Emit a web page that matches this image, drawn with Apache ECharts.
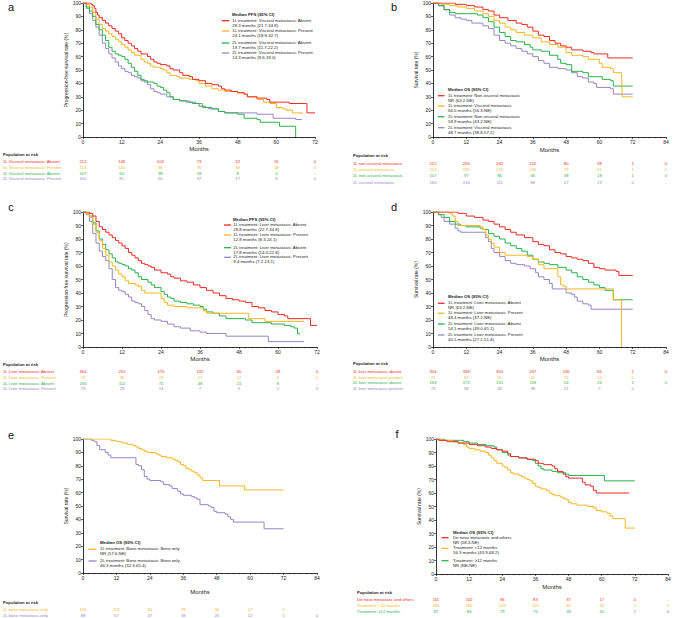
<!DOCTYPE html>
<html>
<head>
<meta charset="utf-8">
<script src="https://cdn.jsdelivr.net/npm/echarts@6/dist/echarts.min.js"></script>
<style>html,body{margin:0;padding:0;background:#fff}#c{width:676px;height:618px}</style>
</head>
<body>
<div id="c"></div>
<script>
// ---------------- DATA ----------------
const monthTicks72 = [0, 12, 24, 36, 48, 60, 72];
const monthTicks84 = [0, 12, 24, 36, 48, 60, 72, 84];

// Panel a: PFS by visceral metastasis
const a1LAbsent = [[0,100],[2,100],[2.5,99],[3,98],[3.5,96],[4,93],[4.5,91],[5,89],[6,87],[7,85],[8,83],[9,81],[10,79],[11,77],[12,74],[13,72],[14,70],[15,68],[16,66],[17,64],[18,62],[20,60],[21,58],[22,56],[23,55],[24,54],[26,53],[27,51],[28,50],[30,48],[31,46],[33,45],[34,43],[36,42],[38,40],[40,39],[42,38],[43,36],[44,35],[46,34],[48,33],[50,32],[51,30],[54,29],[57,28],[58,26],[63,26],[64,25],[69,25],[69.5,18],[72,18]];
const a1LPresent = [[0,100],[1,99],[2,97],[3,93],[4,88],[5,84],[6,81],[7,79],[8,77],[9,75],[10,73],[11,71],[12,69],[13,67],[14,65],[15,63],[16,61],[18,58],[19,56],[20,55],[21,53],[22,52],[24,51],[25,50],[26,48],[27,46],[29,45],[30,44],[33,43],[35,42],[36,40],[38,38],[40,36],[42,35],[44,34],[48,33],[50,32],[51,30],[54,28],[56,26],[58,25],[60,22],[62,21],[63,20],[65,18],[68,17]];
const a2LAbsent = [[0,100],[1,97],[2,94],[3,90],[4,84],[5,80],[6,76],[7,72],[8,67],[9,64],[10,62],[11,61],[12,60],[13,58],[14,55],[15,52],[16,49],[17,46],[18,43],[19,42],[20,41],[22,40],[23,38],[24,37],[25,35],[26,33],[27,30],[28,28],[30,27],[32,26],[34,25],[36,23],[38,22],[40,21],[42,19],[44,18],[48,17],[50,14],[54,13],[55,11],[60,11],[61,8],[65.5,8],[66,0]];
const a2LPresent = [[0,100],[1,96],[2,92],[3,87],[4,82],[5,76],[6,70],[7,66],[8,62],[9,59],[10,56],[11,53],[12,51],[13,49],[14,48],[15,46],[16,45],[17,44],[18,42],[19,41],[20,39],[21,36],[22,34],[23,33],[24,32],[26,30],[28,28],[30,27],[33,26],[35,25],[37,22],[39,21],[42,19],[44,18],[48,18],[54,17],[58,17],[59,14],[66,13],[68,13]];

// Panel b: OS by visceral metastasis
const b1LNonVisc = [[0,100],[6,100],[8,99],[12,98],[15,97],[18,95],[20,94],[22,91],[24,89],[27,87],[30,85],[32,84],[34,82],[36,79],[38,76],[40,75],[42,72],[44,70],[46,68],[48,67],[50,65],[54,64],[57,63],[58,62],[60,62],[63,59],[72,59]];
const b1LVisc = [[0,100],[3,99],[6,98],[9,97],[12,96],[15,94],[18,92],[20,90],[22,87],[24,85],[26,82],[28,80],[30,78],[33,76],[36,74],[39,71],[42,69],[45,67],[48,63],[50,61],[54,60],[56,58],[60,55],[61,52],[64,51],[65,48],[68,48],[68.2,30],[72,30]];
const b2LNonVisc = [[0,100],[2,98],[4,95],[6,93],[8,92],[12,92],[16,91],[18,89],[20,86],[22,82],[24,78],[26,75],[28,72],[30,71],[33,69],[35,67],[36,65],[39,64],[42,61],[45,58],[46,55],[48,54],[50,49],[54,48],[56,45],[60,45],[61,43],[64,42],[65,38],[72,38]];
const b2LVisc = [[0,100],[2,98],[4,95],[6,91],[8,89],[10,88],[12,87],[14,85],[18,83],[20,81],[22,76],[24,72],[26,70],[28,68],[30,66],[32,64],[34,62],[36,60],[38,57],[40,55],[42,52],[45,51],[48,50],[50,48],[52,45],[54,44],[56,41],[58,40],[59,37],[64,36],[65,32],[72,32]];

// Panel c: PFS by liver metastasis
const c1LAbsent = [[0,100],[1.5,100],[2,99],[3,97],[4,93],[5,89],[6,87],[7,85],[8,83],[9,81],[10,79],[11,77],[12,75],[13,73],[14,70],[15,68],[16,66],[17,64],[18,62],[19,61],[20,60],[21,59],[22,57],[24,55],[26,54],[27,52],[28,51],[30,49],[32,48],[34,46],[36,44],[38,42],[40,40],[42,38],[44,36],[46,35],[48,34],[50,33],[52,30],[54,29],[56,27],[58,26],[60,24],[62,23],[63,21],[69.5,21],[70,16],[72,16]];
const c1LPresent = [[0,100],[1,99],[2,96],[3,91],[4,85],[5,79],[6,73],[7,68],[8,63],[9,60],[10,57],[11,54],[12,52],[13,49],[14,47],[16,46],[17,45],[18,42],[19,40],[23,40],[24,36],[25,33],[26,31],[28,30],[32,29],[36,29],[37,27],[38,25],[50,25],[51,21],[55,21],[56,19],[68,19]];
const c2LAbsent = [[0,100],[1,99],[2,97],[3,92],[4,86],[5,80],[6,76],[7,72],[8,69],[9,66],[10,63],[11,62],[12,61],[13,60],[14,58],[15,57],[16,55],[17,52],[18,50],[20,48],[21,46],[22,44],[24,41],[25,39],[26,37],[27,36],[28,34],[30,33],[32,32],[34,31],[36,30],[37,28],[38,26],[40,25],[42,23],[44,21],[48,21],[50,20],[52,18],[56,18],[58,17],[62,16],[64,15],[65,14],[66,10],[66.5,9]];
const c2LPresent = [[0,100],[1,98],[2,93],[3,84],[4,77],[5,71],[6,67],[7,64],[8,58],[9,50],[10,44],[11,42],[12,41],[13,39],[14,37],[15,34],[16,33],[17,32],[18,30],[19,27],[20,24],[21,21],[22,20],[24,19],[26,17],[28,15],[30,14],[33,12],[36,11],[38,10],[42,10],[44,8],[56,8],[57,4],[68,4]];

// Panel d: OS by liver metastasis
const d1LAbsent = [[0,100],[6,100],[9,99],[12,97],[15,96],[18,94],[20,93],[22,91],[24,89],[26,87],[28,85],[30,83],[33,81],[36,78],[38,76],[40,75],[42,72],[44,70],[46,69],[48,67],[50,66],[52,65],[54,64],[56,62],[58,59],[60,58],[62,57],[66,56],[67,53],[72,53]];
const d1LPresent = [[0,100],[3,100],[6,99],[7,97],[8,93],[9,90],[12,90],[17,89],[18,87],[19,83],[20,80],[21,77],[22,74],[24,70],[26,68],[30,68],[34,67],[36,65],[38,61],[40,58],[44,58],[45,52],[46,46],[47,45],[48,43],[64,43],[65,35],[67.5,35],[68,0]];
const d2LAbsent = [[0,100],[2,98],[4,96],[6,93],[8,91],[10,90],[12,89],[15,89],[17,88],[18,87],[20,84],[22,82],[24,80],[26,77],[28,75],[30,73],[32,71],[34,68],[36,65],[38,63],[40,62],[42,61],[45,59],[48,57],[50,55],[52,52],[54,50],[56,48],[58,46],[60,44],[62,42],[64,42],[65,35],[72,35]];
const d2LPresent = [[0,100],[2,98],[3,96],[4,93],[6,91],[8,88],[9,86],[10,85],[18,85],[19,81],[20,78],[21,73],[22,70],[24,67],[26,64],[28,62],[30,61],[33,60],[35,58],[37,55],[38,52],[40,50],[42,47],[43,43],[48,40],[50,39],[51,37],[52,34],[54,32],[56,31],[57,28],[72,28]];

// Panel e: OS, bone metastasis only
const e1LBone = [[0,100],[9,100],[10,99],[12,98],[14,97],[16,96],[18,95],[19,94],[20,93],[21,92],[22,91],[23,90],[26,89],[27,88],[28,87],[30,86],[32,85],[33,84],[34,83],[35,81],[36,80],[37,78],[38,77],[39,76],[40,75],[41,73],[42,71],[43,69],[48,69],[49,65],[57,65],[58,62],[72,62]];
const e2LBone = [[0,100],[2,100],[3,99],[4,98],[5,95],[6,92],[8,90],[9,88],[10,86],[18,86],[19,81],[20,80],[21,77],[22,72],[23,70],[24,69],[28,68],[29,66],[31,65],[32,63],[34,61],[35,59],[36,58],[39,57],[40,56],[41,55],[42,51],[45,50],[46,49],[47,46],[48,45],[51,44],[52,42],[53,40],[54,38],[60,38],[65,33],[72,33]];

// Panel f: OS by prior treatment
const fDeNovo = [[0,100],[1,99],[3,99],[4,98],[6,98],[8,97],[12,96],[15,95],[18,94],[20,93],[22,92],[24,91],[26,89],[27,87],[30,86],[33,85],[36,84],[37,82],[39,81],[42,80],[43,78],[44,76],[46,74],[47,72],[48,71],[52,71],[53,68],[54,66],[56,65],[57,62],[58,60],[70,60]];
const fLt12 = [[0,100],[2,99],[4,99],[6,98],[8,97],[10,96],[11,94],[12,93],[14,92],[16,91],[18,90],[19,88],[20,86],[21,84],[22,82],[24,80],[25,79],[26,77],[27,75],[28,74],[30,73],[31,72],[32,71],[33,70],[34,69],[35,67],[36,65],[37,64],[38,63],[40,62],[41,60],[42,59],[43,58],[45,57],[46,56],[47,55],[48,53],[49,52],[51,51],[54,51],[55,50],[57,49],[58,47],[60,46],[62,45],[63,43],[64,41],[68,41],[68.5,34],[72,34]];
const fGe12 = [[0,100],[3,99],[9,99],[10,98],[12,97],[15,96],[18,95],[21,94],[22,92],[24,90],[26,88],[27,87],[30,86],[33,85],[35,84],[36,82],[37,80],[38,78],[39,77],[42,76],[44,75],[47,74],[48,73],[60,73],[61,69],[72,69]];

// Legend texts
const aLegend = [['1L treatment: Visceral metastasis: Absent','28.3 months (21.7-34.8)'],['1L treatment: Visceral metastasis: Present','24.1 months (18.8-32.7)'],['2L treatment: Visceral metastasis: Absent','19.7 months (11.7-22.2)'],['2L treatment: Visceral metastasis: Present','14.3 months (9.6-19.0)']];
const bLegend = [['1L treatment: Non-visceral metastasis','NR (63.2-NE)'],['1L treatment: Visceral metastasis','66.0 months (56.3-NE)'],['2L treatment: Non-visceral metastasis','58.9 months (43.2-NE)'],['2L treatment: Visceral metastasis','48.7 months (38.8-57.2)']];
const cLegend = [['1L treatment: Liver metastasis: Absent','28.8 months (22.7-34.8)'],['1L treatment: Liver metastasis: Present','12.8 months (8.3-24.1)'],['2L treatment: Liver metastasis: Absent','17.8 months (14.4-22.8)'],['2L treatment: Liver metastasis: Present','9.4 months (7.2-13.1)']];
const dLegend = [['1L treatment: Liver metastasis: Absent','NR (63.2-NE)'],['1L treatment: Liver metastasis: Present','48.4 months (37.2-NE)'],['2L treatment: Liver metastasis: Absent','54.1 months (49.0-65.1)'],['2L treatment: Liver metastasis: Present','40.5 months (27.2-51.4)']];
const eLegend = [['1L treatment: Bone metastasis: Bone only','NR (57.6-NE)'],['2L treatment: Bone metastasis: Bone only','46.3 months (32.3-65.4)']];
const fLegend = [['De novo metastatic and others','NR (58.3-NE)'],['Treatment: <12 months','56.3 months (43.9-68.2)'],['Treatment: \u226512 months','NR (NE-NE)']];

// Risk tables
const aRiskLabels = ['1L Visceral metastasis: Absent','1L Visceral metastasis: Present','2L Visceral metastasis: Absent','2L Visceral metastasis: Present'];
const aRisk = [['212','148','103','73','32','15','0'],['214','140','88','76','38','18','0'],['107','60','38','18','8','4','-'],['160','81','50','37','17','8','0']];
const bRiskLabels = ['1L non-visceral metastasis','1L visceral metastasis','2L non-visceral metastasis','2L visceral metastasis'];
const bRisk = [['212','205','182','152','80','38','1','0'],['214','195','172','146','79','41','1','0'],['107','97','86','66','38','18','1','0'],['160','134','111','88','47','13','0','-']];
const cRiskLabels = ['1L Liver metastasis: Absent','1L Liver metastasis: Present','2L Liver metastasis: Absent','2L Liver metastasis: Present'];
const cRisk = [['354','252','176','132','60','28','0'],['72','36','23','17','12','6','0'],['194','112','72','48','21','8','-'],['73','29','14','7','5','2','0']];
const dRiskLabels = ['1L liver metastasis absent','1L liver metastasis present','2L liver metastasis absent','2L liver metastasis present'];
const dRisk = [['354','338','304','257','136','66','2','0'],['72','62','50','42','22','14','0','-'],['194','172','151','118','54','24','1','0'],['73','58','46','38','21','7','0','-']];
const eRiskLabels = ['1L bone metastasis only','2L bone metastasis only'];
const eRisk = [['105','102','90','78','36','17','0','-'],['88','57','47','38','26','12','1','0']];
const fRiskLabels = ['De novo metastatic and others','Treatment: <12 months','Treatment: \u226512 months'];
const fRisk = [['111','102','96','83','37','17','0','-'],['195','180','149','120','66','33','1','0'],['87','86','79','70','39','20','1','0']];

// ---------------- STYLE / LAYOUT ----------------
const FONT = '"Liberation Sans", Arial, Helvetica, sans-serif';
const RED = '#ee2b25', YEL = '#f6b623', GRN = '#2bb24c', PUR = '#9786c4';
const TXT = '#222';
const LG_SIZE = 4.3, RK_SIZE = 4.2;

const panels = [
  { letter:'a', letterXY:[11,7], grid:{left:83,top:3,width:232,height:134}, xmax:72, ticks:monthTicks72, xGap:9, yname:'Progression-free survival rate (%)',
    series:[[a1LAbsent,RED],[a1LPresent,YEL],[a2LAbsent,GRN],[a2LPresent,PUR]], legend:aLegend, legendTitle:'Median PFS (95% CI)',
    lg:{title:[232,14.3], x1:221.7, x2:229.3, tx:232.3, ys:[20.7,31,43,53]},
    riskLabels:aRiskLabels, risk:aRisk, rk:{x:3, head:154, ys:[161.7,167.2,173,178.8]} },
  { letter:'b', letterXY:[394,7], grid:{left:433,top:3,width:233,height:134}, xmax:84, ticks:monthTicks84, xGap:10, yname:'Survival rate (%)',
    series:[[b1LNonVisc,RED],[b1LVisc,YEL],[b2LNonVisc,GRN],[b2LVisc,PUR]], legend:bLegend, legendTitle:'Median OS (95% CI)',
    lg:{title:[448,89.3], x1:438, x2:444.5, tx:448, ys:[95.7,106,116.7,127.7]},
    riskLabels:bRiskLabels, risk:bRisk, rk:{x:353, head:155, ys:[163,169.3,175.7,182]} },
  { letter:'c', letterXY:[11,207], grid:{left:83,top:212,width:234,height:135}, xmax:72, ticks:monthTicks72, xGap:9, yname:'Progression-free survival rate (%)',
    series:[[c1LAbsent,RED],[c1LPresent,YEL],[c2LAbsent,GRN],[c2LPresent,PUR]], legend:cLegend, legendTitle:'Median PFS (95% CI)',
    lg:{title:[233,219], x1:224, x2:231, tx:233.3, ys:[225,235,247.7,257.3]},
    riskLabels:cRiskLabels, risk:cRisk, rk:{x:3, head:364, ys:[371.7,377.3,383,388.7]} },
  { letter:'d', letterXY:[394,207], grid:{left:433,top:212,width:233,height:135}, xmax:84, ticks:monthTicks84, xGap:9, yname:'Survival rate (%)',
    series:[[d1LAbsent,RED],[d1LPresent,YEL],[d2LAbsent,GRN],[d2LPresent,PUR]], legend:dLegend, legendTitle:'Median OS (95% CI)',
    lg:{title:[448,296.3], x1:438, x2:444.5, tx:448, ys:[303.3,313.3,324,335]},
    riskLabels:dRiskLabels, risk:dRisk, rk:{x:353, head:363.3, ys:[371.3,377,382.7,388.7]} },
  { letter:'e', letterXY:[11,435], grid:{left:83,top:439,width:234,height:134}, xmax:84, ticks:monthTicks84, xGap:16, yname:'Survival rate (%)',
    series:[[e1LBone,YEL],[e2LBone,PUR]], legend:eLegend, legendTitle:'Median OS (95% CI)',
    lg:{title:[100,542.3], x1:88.5, x2:96.5, tx:100, ys:[549.3,561]},
    riskLabels:eRiskLabels, risk:eRisk, rk:{x:3, head:602.7, ys:[609.3,615.3]}, riskColors:[YEL,PUR] },
  { letter:'f', letterXY:[397,434], grid:{left:436,top:439,width:232,height:135}, xmax:84, ticks:monthTicks84, xGap:10, yname:'Survival rate (%)',
    series:[[fDeNovo,RED],[fLt12,YEL],[fGe12,GRN]], legend:fLegend, legendTitle:'Median OS (95% CI)',
    lg:{title:[453,532.3], x1:441.5, x2:448.5, tx:453, ys:[537.7,548.3,560.7]},
    riskLabels:fRiskLabels, risk:fRisk, rk:{x:357, head:592.3, ys:[599,605,611]}, riskColors:[RED,YEL,GRN] }
];

const chart = echarts.init(document.getElementById('c'), null, {renderer:'svg', width:676, height:618});

const grids = [], xAxes = [], yAxes = [], series = [];
panels.forEach((p, i) => {
  grids.push(Object.assign({containLabel:false}, p.grid));
  xAxes.push({
    type:'value', gridIndex:i, min:0, max:p.xmax, interval:12,
    name:'Months', nameLocation:'middle', nameGap:p.xGap,
    nameTextStyle:{fontSize:6, color:TXT, fontFamily:FONT},
    axisLine:{show:true, onZero:false, lineStyle:{color:'#000', width:0.8}},
    axisTick:{show:true, length:2, lineStyle:{color:'#000', width:0.6}},
    minorTick:{show:true, splitNumber:6, length:1.2, lineStyle:{color:'#000', width:0.5}},
    axisLabel:{fontSize:5, color:TXT, margin:2.5, fontFamily:FONT},
    splitLine:{show:false}
  });
  yAxes.push({
    type:'value', gridIndex:i, min:0, max:100, interval:10,
    name:p.yname, nameLocation:'middle', nameGap:13.5,
    nameTextStyle:{fontSize:5, color:TXT, fontFamily:FONT},
    axisLine:{show:true, lineStyle:{color:'#000', width:0.8}},
    axisTick:{show:true, length:2, lineStyle:{color:'#000', width:0.6}},
    axisLabel:{fontSize:5, color:TXT, margin:2, fontFamily:FONT},
    splitLine:{show:false}
  });
  p.series.forEach((s, k) => {
    series.push({
      type:'line', name:p.legend[k][0] + ' (' + p.letter + ')', step:'end', xAxisIndex:i, yAxisIndex:i,
      data:s[0], showSymbol:false, symbol:'none', animation:false, silent:true,
      lineStyle:{color:s[1], width:1}, itemStyle:{color:s[1]}, z: 10 - k
    });
  });
});

chart.setOption({
  animation:false,
  backgroundColor:'#fff',
  textStyle:{fontFamily:FONT},
  grid:grids, xAxis:xAxes, yAxis:yAxes, series:series
});

// ---------------- TEXT OVERLAYS ----------------
function txt(x, y, text, opts) {
  opts = opts || {};
  return {
    type:'text', x:x, y:y, silent:true, z:100,
    style:{
      text:text, fontSize:opts.size || RK_SIZE, fontFamily:FONT, fontWeight:opts.bold ? 'bold' : 'normal',
      fill:opts.color || TXT, align:opts.align || 'left', verticalAlign:'middle',
      textAlign:opts.align || 'left', textVerticalAlign:'middle'
    }
  };
}

const graphics = [];
panels.forEach((p, i) => {
  graphics.push(txt(p.letterXY[0], p.letterXY[1], p.letter, {size:11, color:'#111', align:'center'}));
  // legend
  graphics.push(txt(p.lg.title[0], p.lg.title[1], p.legendTitle, {size:LG_SIZE, bold:true}));
  p.legend.forEach((entry, k) => {
    const y = p.lg.ys[k];
    const col = p.series[k][1];
    graphics.push({type:'line', silent:true, z:100, shape:{x1:p.lg.x1, y1:y, x2:p.lg.x2, y2:y}, style:{stroke:col, lineWidth:1.3}});
    graphics.push(txt(p.lg.tx, y - 0.4, entry[0], {size:LG_SIZE}));
    graphics.push(txt(p.lg.tx, y + 4.4, entry[1], {size:LG_SIZE}));
  });
  // risk table
  graphics.push(txt(p.rk.x, p.rk.head, 'Population at risk', {size:RK_SIZE, bold:true}));
  const cols = p.riskColors || [RED, YEL, GRN, PUR];
  p.riskLabels.forEach((lab, r) => {
    const y = p.rk.ys[r];
    graphics.push(txt(p.rk.x, y, lab, {size:RK_SIZE, color:cols[r]}));
    p.risk[r].forEach((v, c) => {
      const px = chart.convertToPixel({xAxisIndex:i}, p.ticks[c]);
      graphics.push(txt(px, y, v, {size:RK_SIZE, color:cols[r], align:'center'}));
    });
  });
});

chart.setOption({graphic:graphics});
</script>
</body>
</html>
